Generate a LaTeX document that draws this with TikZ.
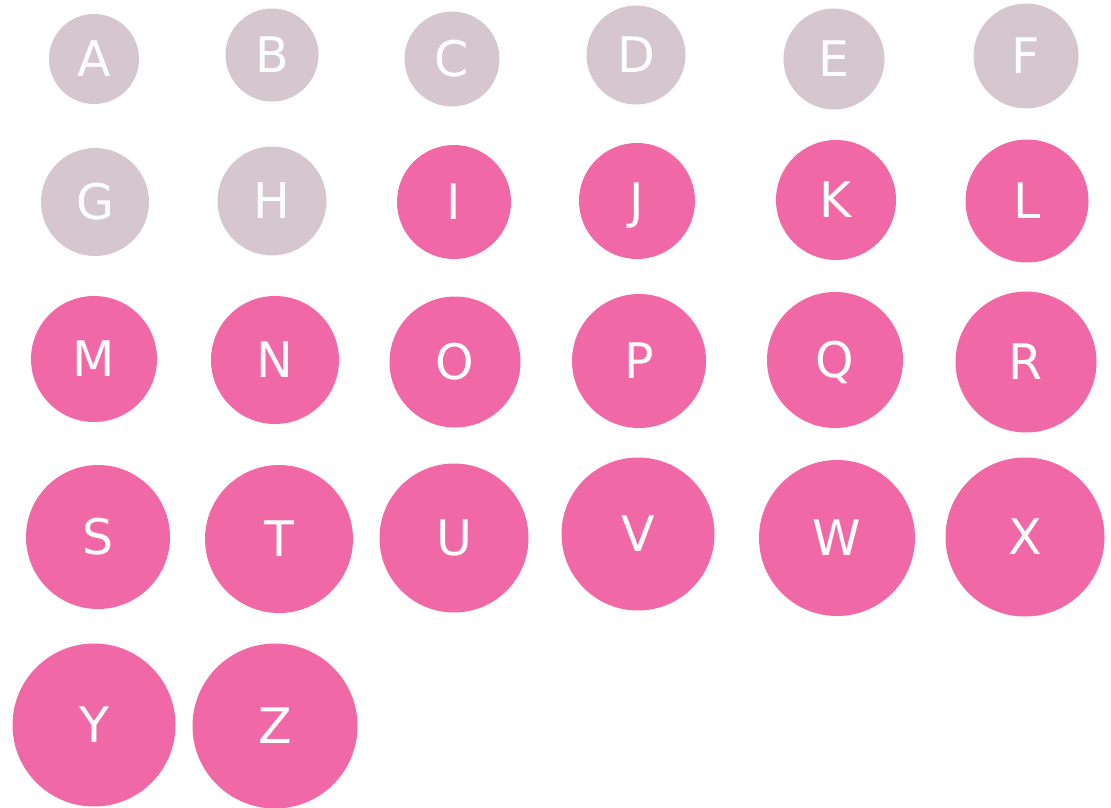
\documentclass[tikz,border=0pt]{standalone}
\usepackage{fontspec}
\setmainfont{DejaVu Sans}

\begin{document}
\begin{tikzpicture}[x=1pt,y=-1pt]
            \definecolor{paleball}{RGB}{214,198,205}
            \definecolor{hotball}{RGB}{240,104,166}
            \tikzset{ball/.style={circle,draw=none,inner sep=0pt,minimum size=#1,
                text=white,font=\fontsize{49}{55}\selectfont,text height=35.5pt,text depth=0pt}}
            \useasboundingbox (0,0) rectangle (1111,808);
            % first two rows: the pale ones
            \foreach \n/\cx/\cy/\d in {A/94/59/90,B/272/55/93,C/452/59/95,D/636/55/99,E/834/59/101,F/1026/56/105,G/95/202/108,H/272/201/109}{
                \node[ball=\d pt,fill=paleball] (\n) at (\cx,\cy) {\n};
            }
            % the rest in pink
            \foreach \n/\cx/\cy/\d in {I/454/202/114,J/637/201/116,K/836/200/120,L/1027/201/123,
                M/94/359/126,N/275/360/128,O/455/362/131,P/639/361/134,Q/835/360/136,R/1026/362/141,
                S/98/537/144,T/279/539/148,U/454/538/149,V/638/534/153,W/837/538/156,X/1025/537/159,
                Y/94/725/163,Z/275/726/165}{
                \node[ball=\d pt,fill=hotball] (\n) at (\cx,\cy) {\n};
            }
        \end{tikzpicture}
\end{document}
